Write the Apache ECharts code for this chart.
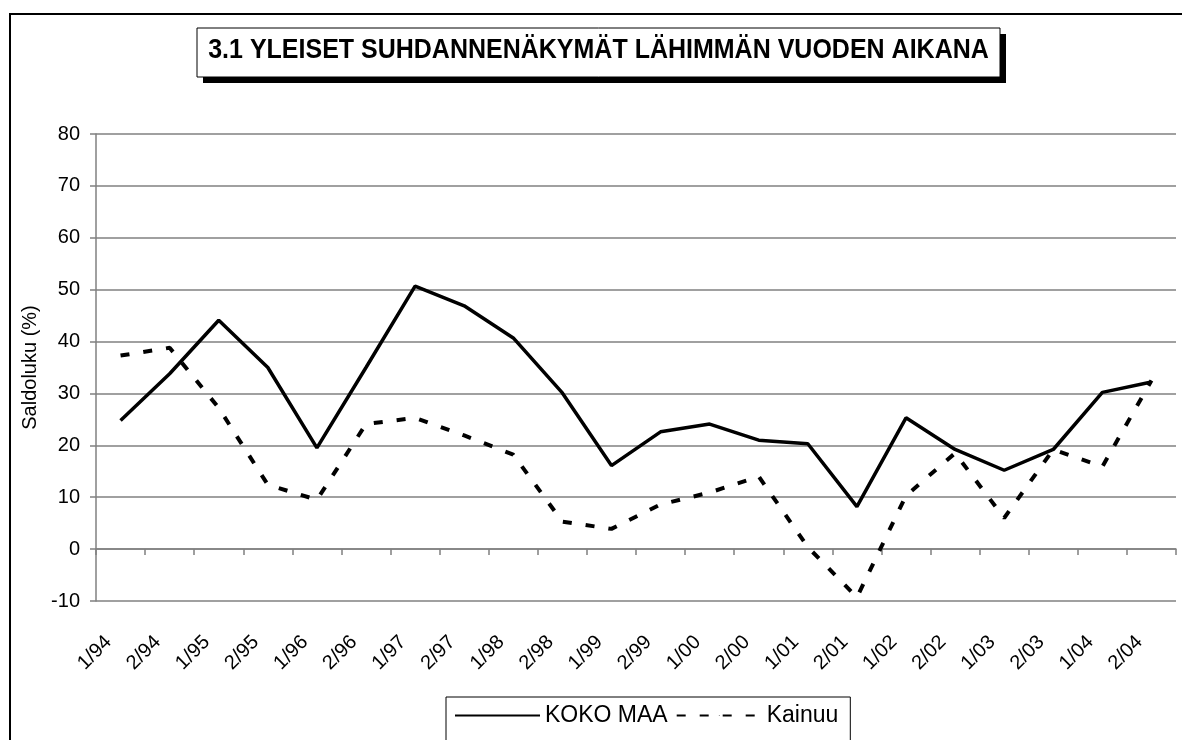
<!DOCTYPE html>
<html>
<head>
<meta charset="utf-8">
<script src="https://cdn.jsdelivr.net/npm/echarts@6/dist/echarts.min.js"></script>
<style>html,body{margin:0;padding:0;background:#fff;}#c{width:1182px;height:740px;}</style>
</head>
<body>
<div id="c"></div>
<script>
const categories = ['1/94','2/94','1/95','2/95','1/96','2/96','1/97','2/97','1/98','2/98','1/99','2/99','1/00','2/00','1/01','2/01','1/02','2/02','1/03','2/03','1/04','2/04'];
const kokoMaa = [24.8, 33.8, 44.1, 35.0, 19.5, 35.0, 50.7, 46.9, 40.7, 30.1, 16.1, 22.6, 24.1, 21.0, 20.3, 8.2, 25.3, 19.2, 15.2, 19.2, 30.2, 32.2];
const kainuu = [37.3, 38.8, 27.2, 12.4, 9.5, 24.1, 25.3, 21.9, 18.2, 5.3, 3.9, 8.6, 10.9, 14.0, 0.4, -9.3, 10.3, 18.5, 6.0, 19.2, 15.9, 32.5];
const titleText = '3.1 YLEISET SUHDANNENÄKYMÄT LÄHIMMÄN VUODEN AIKANA';
const yName = 'Saldoluku (%)';
const seriesNames = ['KOKO MAA', 'Kainuu'];

const FONT = "'Liberation Sans', Arial, sans-serif";
const chart = echarts.init(document.getElementById('c'), null, {renderer: 'canvas'});
chart.setOption({
  animation: false,
  backgroundColor: '#fff',
  textStyle: {fontFamily: FONT, color: '#000'},
  graphic: [
    {type: 'rect', z: -10, shape: {x: 10, y: 14, width: 1300, height: 900}, style: {fill: 'none', stroke: '#000', lineWidth: 2}},
    {type: 'rect', z: 10, shape: {x: 203, y: 34, width: 803, height: 49}, style: {fill: '#000'}},
    {type: 'rect', z: 11, shape: {x: 197, y: 28, width: 803, height: 49}, style: {fill: '#fff', stroke: '#000', lineWidth: 1}},
    {type: 'text', z: 12, x: 598.5, y: 51, scaleY: 1.08, style: {text: titleText, font: "bold 25px 'Liberation Sans', Arial, sans-serif", fill: '#000', align: 'center', verticalAlign: 'middle'}}
  ],
  grid: {left: 96, right: 6, top: 134, bottom: 139, containLabel: false},
  legend: {
    data: seriesNames,
    left: 446, top: 697,
    padding: [7, 12, 40, 8],
    itemWidth: 85, itemHeight: 1, itemGap: 8,
    borderColor: '#000', borderWidth: 1,
    textStyle: {fontSize: 23, color: '#000', fontFamily: FONT}
  },
  xAxis: {
    type: 'category',
    data: categories,
    boundaryGap: true,
    axisLine: {onZero: true, lineStyle: {color: '#808080', width: 1.5}},
    axisTick: {show: true, inside: false, length: 6, lineStyle: {color: '#808080', width: 1.5}},
    axisLabel: {rotate: 45, margin: 26, padding: [0, 17, 0, 0], fontSize: 20, color: '#000', fontFamily: FONT, interval: 0},
    splitLine: {show: false}
  },
  yAxis: {
    type: 'value',
    min: -10, max: 80, interval: 10,
    name: yName,
    nameLocation: 'middle',
    nameGap: 56,
    nameTextStyle: {fontSize: 20, color: '#000', fontFamily: FONT},
    axisLine: {show: true, lineStyle: {color: '#808080', width: 1.5}},
    axisTick: {show: true, length: 6, lineStyle: {color: '#808080', width: 1.5}},
    axisLabel: {margin: 16, fontSize: 20, color: '#000', fontFamily: FONT},
    splitLine: {show: true, lineStyle: {color: '#808080', width: 1.5}}
  },
  series: [
    {name: seriesNames[0], type: 'line', data: kokoMaa, symbol: 'none', lineStyle: {color: '#000', width: 3.5, type: 'solid'}, itemStyle: {color: '#000'}},
    {name: seriesNames[1], type: 'line', data: kainuu, symbol: 'none', lineStyle: {color: '#000', width: 4, type: [9, 14]}, itemStyle: {color: '#000'}}
  ]
});
</script>
</body>
</html>
